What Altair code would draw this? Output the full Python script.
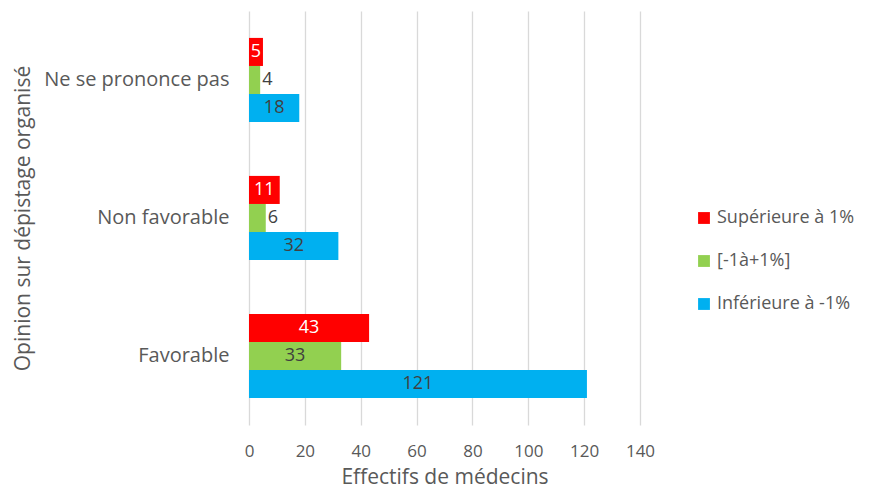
import altair as alt
import pandas as pd

categories = ["Ne se prononce pas", "Non favorable", "Favorable"]
series = ["Supérieure à 1%", "\u2002[-1à+1%]", "Inférieure à -1%"]
sup_values = [5, 11, 43]
mid_values = [4, 6, 33]
inf_values = [18, 32, 121]
colors = ["#FF0000", "#92D050", "#00B0F0"]
text_colors = ["#FFFFFF", "#404040", "#404040"]
x_ticks = [0, 20, 40, 60, 80, 100, 120, 140]

rows = []
for s_i, (s, vals) in enumerate(zip(series, [sup_values, mid_values, inf_values])):
    for c, v in zip(categories, vals):
        outside = v < 8 and s_i > 0
        rows.append({
            "cat": c, "serie": s, "v": v,
            "lx": v if outside else v / 2,
            "align": "left" if outside else "center",
            "tcol": text_colors[s_i],
        })
df = pd.DataFrame(rows)

FONT = "Open Sans"
GREY = "#595959"

y_enc = alt.Y("cat:N", sort=categories,
              scale=alt.Scale(paddingInner=0.39, paddingOuter=0.195),
              axis=alt.Axis(title="Opinion sur dépistage organisé", domain=False, ticks=False,
                            labelFontSize=20, labelColor=GREY, labelPadding=20, labelLimit=400,
                            titleFontSize=21, titleFontWeight="normal", titleColor=GREY,
                            titlePadding=16, labelFont=FONT, titleFont=FONT))
yoff = alt.YOffset("serie:N", sort=series, scale=alt.Scale(paddingInner=0, paddingOuter=0))

bars = alt.Chart(df).mark_bar().encode(
    x=alt.X("v:Q", scale=alt.Scale(domain=[0, 140], nice=False),
            axis=alt.Axis(values=x_ticks, title="Effectifs de médecins", domain=False, ticks=False,
                          grid=True, gridColor="#D9D9D9", gridWidth=1.3, labelFlush=False,
                          labelFontSize=17, labelColor=GREY, labelPadding=18,
                          titleFontSize=21, titleFontWeight="normal", titleColor=GREY,
                          titlePadding=7, labelFont=FONT, titleFont=FONT)),
    y=y_enc,
    yOffset=yoff,
    color=alt.Color("serie:N", sort=series,
                    scale=alt.Scale(domain=series, range=colors),
                    legend=alt.Legend(title=None, orient="none", legendX=446, legendY=198,
                                      symbolType="square", symbolSize=140, symbolStrokeWidth=0,
                                      labelFontSize=18, labelColor=GREY, labelFont=FONT,
                                      labelLimit=300, rowPadding=25, symbolOffset=0,
                                      labelOffset=4)),
)

labels_center = alt.Chart(df).transform_filter("datum.align == 'center'").mark_text(
    fontSize=18, font=FONT, align="center", baseline="middle"
).encode(
    x="lx:Q", y=alt.Y("cat:N", sort=categories), yOffset=alt.YOffset("serie:N", sort=series),
    text="v:Q", color=alt.Color("tcol:N", scale=None),
)
labels_left = alt.Chart(df).transform_filter("datum.align == 'left'").mark_text(
    fontSize=18, font=FONT, align="left", baseline="middle", dx=2
).encode(
    x="lx:Q", y=alt.Y("cat:N", sort=categories), yOffset=alt.YOffset("serie:N", sort=series),
    text="v:Q", color=alt.Color("tcol:N", scale=None),
)

chart = alt.layer(bars, labels_center, labels_left).properties(
    width=391, height=414,
    autosize=alt.AutoSizeParams(type="none"),
    padding={"left": 241, "top": 3, "right": 221, "bottom": 63},
).configure(background="white", view=alt.ViewConfig(stroke=None))

chart.save("out.html", embed_options={"renderer": "svg", "actions": False})
